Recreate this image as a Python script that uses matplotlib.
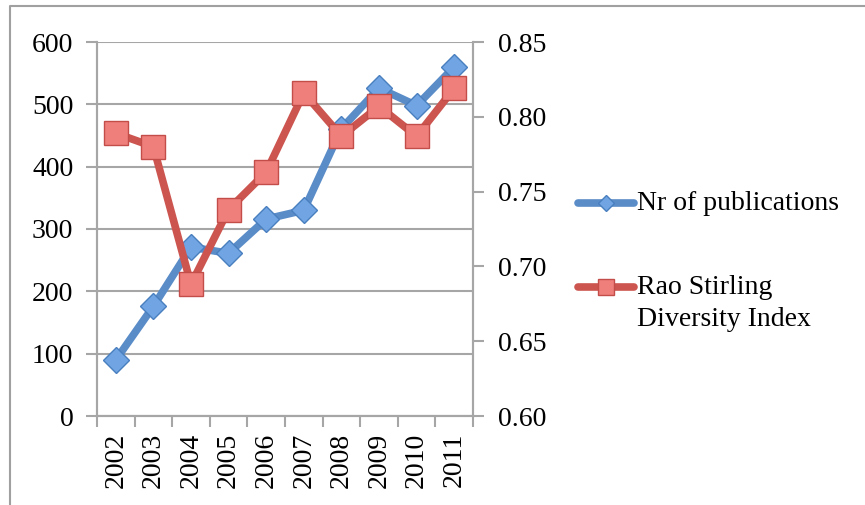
import matplotlib.pyplot as plt
from matplotlib.lines import Line2D
import numpy as np

plt.rcParams['font.family'] = ['Liberation Serif', 'DejaVu Serif']
plt.rcParams['font.size'] = 20

years = ['2002', '2003', '2004', '2005', '2006', '2007', '2008', '2009', '2010', '2011']
publications = [90, 176, 271, 261, 316, 330, 461, 526, 498, 560]
rao_stirling = [0.789, 0.780, 0.688, 0.738, 0.763, 0.816, 0.787, 0.807, 0.787, 0.819]

blue_line = '#5a8cc8'
blue_fill = '#70a4e2'
blue_edge = '#4a7fbf'
red_line = '#cc5550'
red_fill = '#ef7f7b'
red_edge = '#c24d49'
grid_col = '#a6a6a6'

fig = plt.figure(figsize=(8.65, 5.05), dpi=100)
ax = fig.add_axes([97/865, 89/505, 376/865, 374/505])
ax2 = ax.twinx()

x = np.arange(len(years))

ax.plot(x, publications, color=blue_line, lw=5.5, marker='D', ms=13,
        mfc=blue_fill, mec=blue_edge, mew=1, zorder=3, solid_capstyle='round')
ax2.plot(x, rao_stirling, color=red_line, lw=5.5, marker='s', ms=17.5,
         mfc=red_fill, mec=red_edge, mew=1, zorder=3, solid_capstyle='round')

ax.set_xlim(-0.5, len(years) - 0.5)
ax.set_ylim(0, 600)
ax.set_yticks(range(0, 601, 100))
ax2.set_ylim(0.60, 0.85)
ax2.set_yticks(np.arange(0.60, 0.851, 0.05))
ax2.set_yticklabels(['%.2f' % v for v in np.arange(0.60, 0.851, 0.05)])

ax.set_xticks(x)
ax.set_xticklabels(years, rotation=90)
ax.set_xticks(np.arange(-0.5, len(years)), minor=True)
ax.tick_params(axis='x', which='major', length=0, pad=12)
ax.tick_params(axis='x', which='minor', length=8, width=1.5, color=grid_col)
ax.tick_params(axis='y', length=8, width=1.5, color=grid_col, pad=9)
ax2.tick_params(axis='y', length=8, width=1.5, color=grid_col, pad=10)

ax.yaxis.grid(True, color=grid_col, lw=1.5)
ax.set_axisbelow(True)

for a in (ax, ax2):
    a.spines['top'].set_visible(False)
    for s in ('left', 'right', 'bottom'):
        a.spines[s].set_color(grid_col)
        a.spines[s].set_linewidth(1.5)

# legend drawn by hand so the handle lines up with the first text line
def leg_entry(y_px, color, mfc, mec, marker, ms, lines):
    y = 1 - y_px / 505
    fig.add_artist(Line2D([578/865, 606/865, 634/865], [y, y, y], transform=fig.transFigure,
                          color=color, lw=5.5, solid_capstyle='round', marker=marker,
                          ms=ms, mfc=mfc, mec=mec, mew=1, markevery=[1]))
    for i, t in enumerate(lines):
        fig.text(637/865, y - i * 32 / 505, t, ha='left', va='center')

leg_entry(203, blue_line, blue_fill, blue_edge, 'D', 8, ['Nr of publications'])
leg_entry(287, red_line, red_fill, red_edge, 's', 12, ['Rao Stirling', 'Diversity Index'])

# outer chart frame
fig.add_artist(Line2D([10/865, 10/865, 1], [0, 1 - 6/505, 1 - 6/505], transform=fig.transFigure,
                      color='#a0a0a0', lw=1.5))

fig.savefig('out.png', dpi=100)
